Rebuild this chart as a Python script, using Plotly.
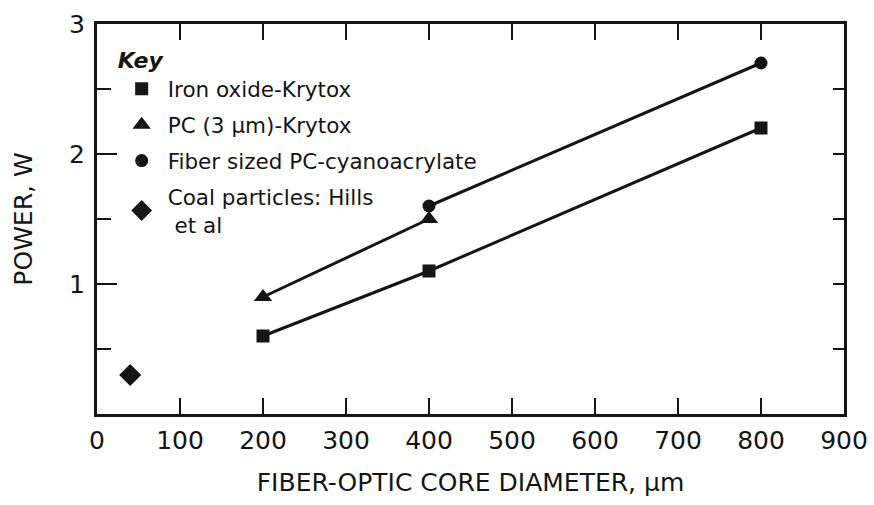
import plotly.graph_objects as go

# Data
iron_x = [200, 400, 800]
iron_y = [0.6, 1.1, 2.2]
pc_x = [200, 400]
pc_y = [0.9, 1.5]
fiber_x = [400, 800]
fiber_y = [1.6, 2.7]
coal_x = [40]
coal_y = [0.3]

x_ticks = [0, 100, 200, 300, 400, 500, 600, 700, 800, 900]
y_ticks = [1, 2, 3]
y_minor = [0.5, 1.5, 2.5]

INK = "#151515"
FONT = "DejaVu Sans"

fig = go.Figure()

# connecting lines (not in legend)
fig.add_trace(go.Scatter(x=iron_x, y=iron_y, mode="lines",
                         line=dict(color=INK, width=3), showlegend=False, hoverinfo="skip"))
fig.add_trace(go.Scatter(x=pc_x, y=pc_y, mode="lines",
                         line=dict(color=INK, width=3), showlegend=False, hoverinfo="skip"))
fig.add_trace(go.Scatter(x=fiber_x, y=fiber_y, mode="lines",
                         line=dict(color=INK, width=3), showlegend=False, hoverinfo="skip"))

# markers (legend)
fig.add_trace(go.Scatter(x=iron_x, y=iron_y, mode="markers", name="Iron oxide-Krytox",
                         legendgroup="a",
                         marker=dict(symbol="square", size=13, color=INK)))
fig.add_trace(go.Scatter(x=pc_x, y=pc_y, mode="markers", name="PC (3 μm)-Krytox",
                         legendgroup="b",
                         marker=dict(symbol="triangle-up", size=16, color=INK)))
fig.add_trace(go.Scatter(x=fiber_x, y=fiber_y, mode="markers", name="Fiber sized PC-cyanoacrylate",
                         legendgroup="c",
                         marker=dict(symbol="circle", size=13, color=INK)))
fig.add_trace(go.Scatter(x=coal_x, y=coal_y, mode="markers", name="Coal particles: Hills<br> et al",
                         legendgroup="d", yaxis="y2",
                         marker=dict(symbol="diamond", size=17, color=INK)))

fig.update_layout(
    width=874, height=505,
    margin=dict(l=97, r=30, t=24, b=91, autoexpand=False),
    paper_bgcolor="white", plot_bgcolor="white",
    font=dict(family=FONT, color=INK),
    xaxis=dict(
        range=[0, 900], tickvals=x_ticks, ticks="inside", ticklen=16, tickwidth=2,
        tickcolor=INK, showline=True, linewidth=3, linecolor=INK, mirror="ticks",
        showgrid=False, zeroline=False, tickfont=dict(size=25, family=FONT),
        ticklabelstandoff=2, automargin=False,
        title=dict(text="FIBER-OPTIC CORE DIAMETER, μm", font=dict(size=25, family=FONT),
                   standoff=20),
    ),
    yaxis=dict(
        range=[0, 3], tickvals=y_ticks, ticks="inside", ticklen=20, tickwidth=2,
        tickcolor=INK, showline=True, linewidth=3, linecolor=INK, mirror=False,
        showgrid=False, zeroline=False, tickfont=dict(size=25, family=FONT),
        ticklabelstandoff=4, automargin=False,
        minor=dict(tickvals=y_minor, ticks="inside", ticklen=14, tickwidth=2, tickcolor=INK,
                   showgrid=False),
        title=dict(text="POWER, W", font=dict(size=25, family=FONT), standoff=30),
    ),
    yaxis2=dict(
        range=[0, 3], matches="y", overlaying="y", side="right",
        tickvals=[0.5, 1, 1.5, 2, 2.5], ticks="inside", ticklen=11, tickwidth=2,
        tickcolor=INK, showline=True, linewidth=3, linecolor=INK, automargin=False,
        showticklabels=False, showgrid=False, zeroline=False,
    ),
    legend=dict(
        x=0.025, y=0.96, xanchor="left", yanchor="top",
        bgcolor="rgba(0,0,0,0)", borderwidth=0,
        font=dict(size=21.5, family=FONT, color=INK),
        title=dict(text="<b><i>Key</i></b>", side="top", font=dict(size=22, family=FONT)),
        tracegroupgap=5, itemsizing="trace", itemwidth=42,
    ),
    showlegend=True,
)

fig.write_html("out.html", config={"displayModeBar": False},
               post_script="document.body.style.margin='0';")
